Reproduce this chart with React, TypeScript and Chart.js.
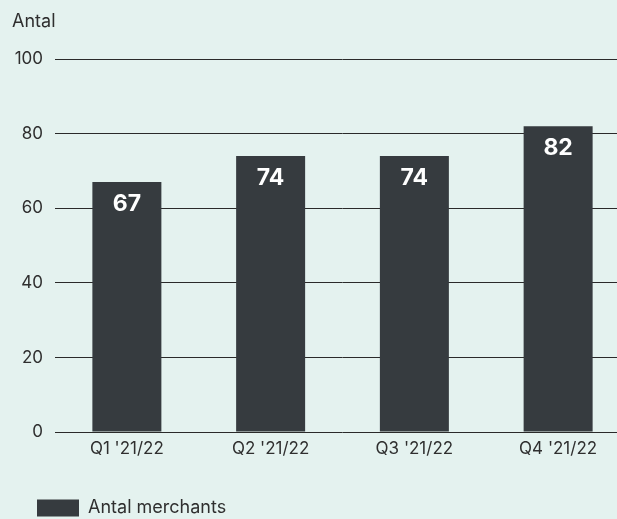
import React, { useEffect, useRef } from "react";
import { Chart, registerables } from "chart.js";

Chart.register(...registerables);

const categories = ["Q1 '21/22", "Q2 '21/22", "Q3 '21/22", "Q4 '21/22"];
const values = [67, 74, 74, 82];
const seriesLabel = "Antal merchants";
const yTitle = "Antal";
const yTicks = [0, 20, 40, 60, 80, 100];

const BG = "#e4f2ef";
const BAR = "#363b3f";
const TEXT = "#2f2f2f";
const FONT = "Inter, 'Liberation Sans', Arial, sans-serif";

const bgPlugin = {
  id: "bg",
  beforeDraw(chart: any) {
    const { ctx, width, height } = chart;
    ctx.save();
    ctx.fillStyle = BG;
    ctx.fillRect(0, 0, width, height);
    ctx.restore();
  },
};

const titlePlugin = {
  id: "ytitle",
  afterDraw(chart: any) {
    const { ctx } = chart;
    ctx.save();
    ctx.fillStyle = TEXT;
    ctx.font = `18px ${FONT}`;
    ctx.textAlign = "left";
    ctx.textBaseline = "middle";
    ctx.fillText(yTitle, 12, 22);
    ctx.restore();
  },
};

const labelPlugin = {
  id: "vlabels",
  afterDatasetsDraw(chart: any) {
    const { ctx } = chart;
    const meta = chart.getDatasetMeta(0);
    ctx.save();
    ctx.fillStyle = "#ffffff";
    ctx.font = `bold 23px ${FONT}`;
    ctx.textAlign = "center";
    ctx.textBaseline = "middle";
    meta.data.forEach((el: any, i: number) => {
      ctx.fillText(String(values[i]), el.x, el.y + 22);
    });
    ctx.restore();
  },
};

export default function App() {
  const ref = useRef<HTMLCanvasElement>(null);
  useEffect(() => {
    if (!ref.current) return;
    const chart = new Chart(ref.current, {
      type: "bar",
      data: {
        labels: categories,
        datasets: [
          {
            label: seriesLabel,
            data: values,
            backgroundColor: BAR,
            borderWidth: 0,
            barPercentage: 0.48,
            categoryPercentage: 1,
          },
        ],
      },
      options: {
        animation: false,
        responsive: false,
        maintainAspectRatio: false,
        layout: { padding: { left: 0, top: 59, right: 0, bottom: 0 } },
        plugins: {
          legend: {
            position: "bottom",
            align: "start",
            labels: {
              boxWidth: 42,
              boxHeight: 17,
              padding: 37,
              color: TEXT,
              font: { size: 18, family: FONT },
            },
          },
          tooltip: { enabled: false },
        },
        scales: {
          x: {
            grid: { display: false, drawTicks: false },
            border: { display: false },
            ticks: { color: TEXT, font: { size: 17, family: FONT }, padding: 7, maxRotation: 0 },
            afterFit(scale: any) {
              scale.height = 30;
            },
          },
          y: {
            min: 0,
            max: 100,
            afterBuildTicks(scale: any) {
              scale.ticks = yTicks.map((v) => ({ value: v }));
            },
            grid: { color: "#2a2a2a", lineWidth: 1, drawTicks: false },
            border: { display: false },
            ticks: { color: TEXT, font: { size: 17, family: FONT }, padding: 12 },
            afterFit(scale: any) {
              scale.width = 55;
            },
          },
        },
      },
      plugins: [bgPlugin, titlePlugin, labelPlugin],
    });
    return () => chart.destroy();
  }, []);
  return (
    <div style={{ position: "fixed", left: 0, top: 0, width: 617, height: 519, overflow: "hidden", background: BG }}>
      <canvas ref={ref} width={630} height={527} style={{ display: "block" }} />
    </div>
  );
}
